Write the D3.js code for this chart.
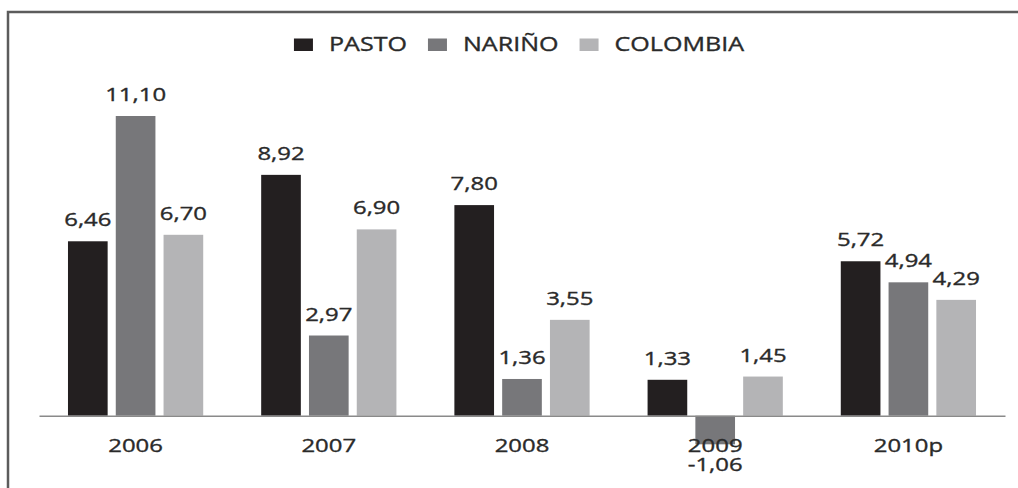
<!DOCTYPE html>
<html>
<head>
<meta charset="utf-8">
<script src="https://cdn.jsdelivr.net/npm/d3@7/dist/d3.min.js"></script>
<style>
  html, body { margin: 0; padding: 0; background: #ffffff; }
  svg { display: block; }
  text { font-family: "Open Sans", sans-serif; fill: #2a2a2a; stroke: #2a2a2a; stroke-width: 0.35px; }
</style>
</head>
<body>
<svg id="chart" width="1018" height="488"></svg>
<script>
// ---- data ----
const categories = ["2006", "2007", "2008", "2009", "2010p"];
const seriesNames = ["PASTO", "NARIÑO", "COLOMBIA"];
const pasto    = [6.46, 8.92, 7.80, 1.33, 5.72];
const narino   = [11.10, 2.97, 1.36, -1.06, 4.94];
const colombia = [6.70, 6.90, 3.55, 1.45, 4.29];
const seriesValues = [pasto, narino, colombia];
const seriesColors = ["#231f20", "#77777a", "#b4b4b6"];

const fmt = v => d3.format(".2f")(v).replace(".", ",").replace("\u2212", "-");
const SX = 1.28; // horizontal stretch of the text in the original

const svg = d3.select("#chart");

// frame
svg.append("path")
  .attr("d", "M8,488 L8,12 L1018,12")
  .attr("fill", "none")
  .attr("stroke", "#5c5c5c")
  .attr("stroke-width", 2.5);

const x0 = d3.scaleBand().domain(categories).range([39, 1005])
  .paddingInner(0.3).paddingOuter(0.15);
const x1 = d3.scaleBand().domain(seriesNames).range([0, x0.bandwidth()])
  .paddingInner(0.17);
const y = d3.scaleLinear().domain([-2, 12]).range([469.7, 91.7]);

const rows = [];
categories.forEach((c, i) => {
  seriesNames.forEach((s, j) => {
    rows.push({cat: c, series: s, value: seriesValues[j][i], color: seriesColors[j]});
  });
});

// bars
svg.append("g").selectAll("rect").data(rows).join("rect")
  .attr("x", d => x0(d.cat) + x1(d.series))
  .attr("width", x1.bandwidth())
  .attr("y", d => y(Math.max(0, d.value)))
  .attr("height", d => Math.abs(y(d.value) - y(0)))
  .attr("fill", d => d.color);

// axis
const axis = svg.append("g")
  .attr("transform", `translate(0,${y(0)})`)
  .call(d3.axisBottom(x0).tickSize(0).tickSizeOuter(0));
axis.select(".domain").attr("stroke", "#8a8a8a").attr("stroke-width", 1.6);
axis.selectAll(".tick text")
  .attr("y", 0).attr("dy", 0)
  .attr("transform", `translate(0,36) scale(${SX},1)`)
  .style("font-family", "'Open Sans', sans-serif")
  .style("font-size", "18.7px")
  .attr("fill", "#2a2a2a");

// value labels
svg.append("g").selectAll("text").data(rows).join("text")
  .attr("text-anchor", "middle")
  .attr("transform", d => {
    const cx = x0(d.cat) + x1(d.series) + x1.bandwidth() / 2;
    const yy = d.value >= 0 ? y(d.value) - 15 : y(d.value) + 27;
    return `translate(${cx},${yy}) scale(${SX},1)`;
  })
  .style("font-size", "18.7px")
  .text(d => fmt(d.value));

// legend
const legend = svg.append("g");
let lx = 0;
const gapAfter = 21;
seriesNames.forEach((s, j) => {
  const g = legend.append("g").attr("transform", `translate(${lx},0)`);
  g.append("rect").attr("x", 0).attr("y", -12.5).attr("width", 19).attr("height", 12.5)
    .attr("fill", seriesColors[j]);
  const t = g.append("text")
    .attr("transform", `translate(35,0) scale(${SX},1)`)
    .style("font-size", "19.6px")
    .text(s);
  const w = t.node().getComputedTextLength() * SX;
  lx += 35 + w + gapAfter;
});
const totalW = lx - gapAfter;
legend.attr("transform", `translate(${519 - totalW / 2},51)`);
</script>
</body>
</html>
